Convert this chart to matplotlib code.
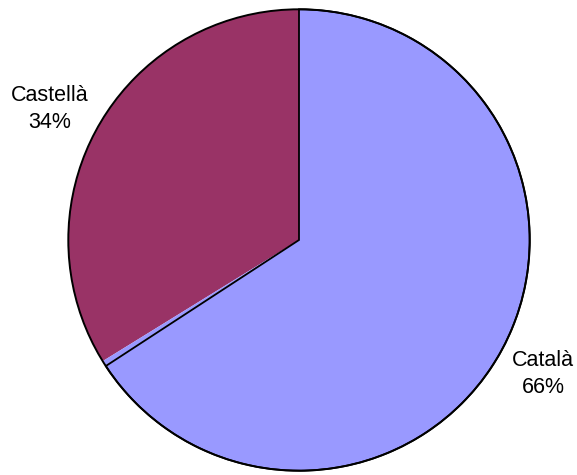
import numpy as np
import matplotlib.pyplot as plt
from matplotlib.patches import Circle

plt.rcParams['font.family'] = ['Liberation Sans', 'DejaVu Sans']

# 数据
labels = ['Castellà', 'Altres', 'Català']
values = [33.8, 0.4, 65.8]
show_label = [True, False, True]
colors = ['#993366', '#9999FF', '#9999FF']

W, H = 577, 475
fig = plt.figure(figsize=(W / 100, H / 100), dpi=100)

# 圆心 (299, 240), 半径 233 像素
cx, cy, r = 299, 240, 233
ax = fig.add_axes([(cx - r) / W, (H - cy - r) / H, 2 * r / W, 2 * r / H])
wedges, _ = ax.pie(values, colors=colors, startangle=90, counterclock=True,
                   wedgeprops={'edgecolor': 'none', 'linewidth': 0})
# 只有 Català 扇区有黑色边线
wedges[2].set_edgecolor('black')
wedges[2].set_linewidth(1.3)
ax.add_patch(Circle((0, 0), 1, fill=False, edgecolor='black', linewidth=1.4))
ax.set_xlim(-1.01, 1.01)
ax.set_ylim(-1.01, 1.01)
ax.axis('off')

# 标签位置 (像素)
label_pos = {'Castellà': (49.5, 109), 'Català': (543, 374)}
total = sum(values)
for name, v, s in zip(labels, values, show_label):
    if not s:
        continue
    px, py = label_pos[name]
    fig.text(px / W, 1 - py / H, '{}\n{:.0f}%'.format(name, v / total * 100),
             ha='center', va='center', fontsize=15.5, linespacing=1.4)

plt.savefig('out.png', dpi=100)
